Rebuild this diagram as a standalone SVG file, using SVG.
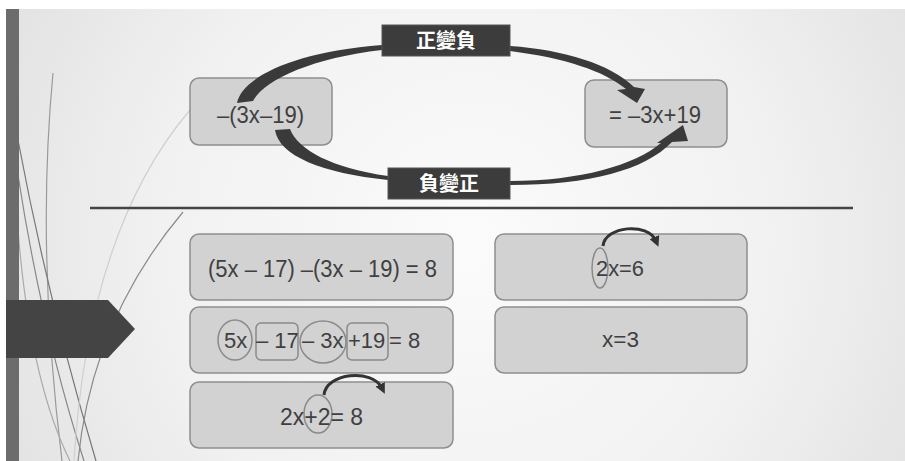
<svg xmlns="http://www.w3.org/2000/svg" width="905" height="461" viewBox="0 0 905 461">
<defs>
<radialGradient id="bg" cx="470" cy="240" r="520" gradientUnits="userSpaceOnUse">
<stop offset="0" stop-color="#fbfbfb"/>
<stop offset="0.6" stop-color="#f1f1f1"/>
<stop offset="1" stop-color="#e2e2e2"/>
</radialGradient>
<marker id="sh" viewBox="0 0 10 10" refX="4" refY="5" markerWidth="3.5" markerHeight="3.5" orient="auto" markerUnits="strokeWidth">
<path d="M0,0 L10,5 L0,10 Z" fill="#333"/>
</marker>
<style>
.box{fill:#d2d2d2;stroke:#8e8e8e;stroke-width:1.5}
.t{font-family:"Liberation Sans","DejaVu Sans",sans-serif;fill:#404040}
.lab{fill:#3c3c3c;stroke:#555;stroke-width:1}
.lt{font-family:"Noto Sans CJK TC","Noto Sans CJK SC",sans-serif;font-weight:bold;fill:#fff;font-size:20px}
.mk{fill:none;stroke:#8a8a8a;stroke-width:1.5}
.big{fill:#3a3a3a}
.sm{fill:none;stroke:#333;stroke-width:3;marker-end:url(#sh)}
.deco{fill:none;stroke-width:1.2}
</style>
</defs>
<rect x="0" y="0" width="905" height="461" fill="#ffffff"/>
<rect x="6" y="9" width="899" height="452" fill="url(#bg)"/>
<g id="decoration">
<path class="deco" stroke="#9a9a9a" d="M53,73 Q36,250 62,461"/>
<path class="deco" stroke="#777" d="M18,140 Q48,300 96,461"/>
<path class="deco" stroke="#888" d="M18,175 Q42,330 84,461"/>
<path class="deco" stroke="#cfcfcf" d="M190,110 Q88,230 74,461"/>
<path class="deco" stroke="#8a8a8a" d="M183,212 Q92,320 78,461"/>
<path class="deco" stroke="#aaa" d="M18,230 Q30,380 70,461"/>
</g>
<rect x="6" y="9" width="13" height="452" fill="#6c6c6c"/>
<g id="pointer"><path d="M6,300 L108,300 L135,329 L108,358 L6,358 Z" fill="#444"/></g>
<line x1="90" y1="208" x2="853" y2="208" stroke="#444" stroke-width="2.5"/>
<g id="node-left-top"><rect class="box" x="190" y="78" width="142" height="67" rx="9"/><text class="t" x="217" y="123" font-size="24" textLength="87" lengthAdjust="spacingAndGlyphs">–(3x–19)</text></g>
<g id="node-right-top"><rect class="box" x="585" y="80" width="142" height="67" rx="9"/><text class="t" x="609" y="123" font-size="24" textLength="92" lengthAdjust="spacingAndGlyphs">= –3x+19</text></g>
<g id="node-eq1"><rect class="box" x="190" y="234" width="263" height="66" rx="9"/><text class="t" x="208" y="277" font-size="23" textLength="229" lengthAdjust="spacingAndGlyphs">(5x – 17) –(3x – 19) = 8</text></g>
<g id="node-eq2"><rect class="box" x="190" y="307" width="263" height="66" rx="9"/>
<ellipse class="mk" cx="235" cy="340" rx="17" ry="20"/>
<rect class="mk" x="256" y="323" width="42" height="37" rx="5"/>
<ellipse class="mk" cx="323" cy="342" rx="23" ry="21"/>
<rect class="mk" x="347" y="323" width="41" height="37" rx="5"/>
<text class="t" y="348" font-size="22"><tspan x="224">5x</tspan><tspan x="256">– 17</tspan><tspan x="302">– 3x</tspan><tspan x="348">+19</tspan><tspan x="389">= 8</tspan></text></g>
<g id="node-eq3"><rect class="box" x="190" y="382" width="263" height="66" rx="9"/><ellipse class="mk" cx="318" cy="414" rx="14" ry="19"/><text class="t" x="280" y="425" font-size="23" textLength="83" lengthAdjust="spacingAndGlyphs">2x+2= 8</text></g>
<g id="node-eq4"><rect class="box" x="495" y="234" width="252" height="66" rx="9"/><ellipse class="mk" cx="600" cy="268" rx="8" ry="20"/><text class="t" x="596" y="276" font-size="22" textLength="48" lengthAdjust="spacingAndGlyphs">2x=6</text></g>
<g id="node-eq5"><rect class="box" x="495" y="307" width="252" height="66" rx="9"/><text class="t" x="602" y="347" font-size="22" textLength="37" lengthAdjust="spacingAndGlyphs">x=3</text></g>
<g id="connectors">
<path class="big" d="M237,103 C242,78 292,52 382,45 L382,50 C312,58 264,80 253,101 Z"/>
<path class="big" d="M510,46 C565,50 610,64 634,87 L645,89 L637,103 L617,90 L626,89 C604,71 565,58 510,51 Z"/>
<path class="big" d="M275,130 C279,156 322,173 388,180 L388,176 C332,168 298,150 290,129 Z"/>
<path class="big" d="M510,181 C580,181 635,165 661,143 L657,143 L683,125 L688,141 L672,142 C645,170 590,185 510,185 Z"/>
<path class="sm" d="M324,395 C326,373 372,368 382,388"/>
<path class="sm" d="M603,246 C605,226 648,222 656,241"/>
</g>
<g id="label-top"><rect class="lab" x="382" y="25" width="128" height="31"/><text class="lt" x="446" y="48" text-anchor="middle">正變負</text></g>
<g id="label-bottom"><rect class="lab" x="388" y="168" width="122" height="31"/><text class="lt" x="449" y="191" text-anchor="middle">負變正</text></g>
</svg>
